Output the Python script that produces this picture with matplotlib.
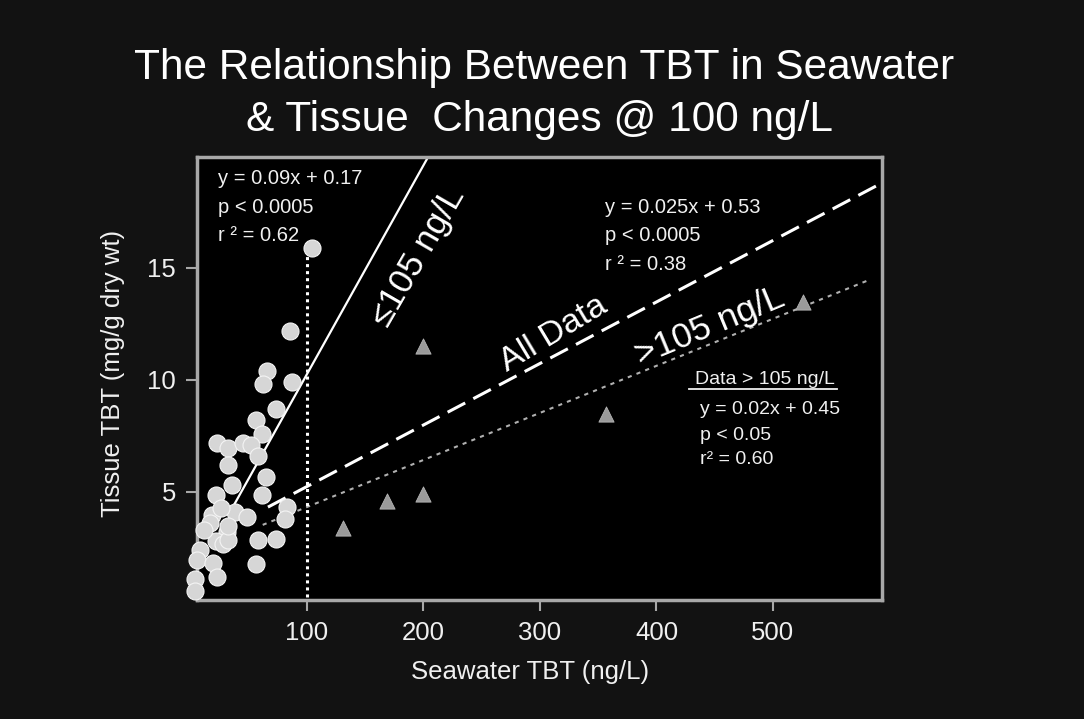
import matplotlib
matplotlib.use("Agg")
import matplotlib.pyplot as plt
from matplotlib.lines import Line2D
import numpy as np

plt.rcParams['font.family'] = ['Liberation Sans', 'DejaVu Sans']

# ---------------- data ----------------
# samples with seawater TBT <= 105 ng/L (circles)
low_x = [85.7, 66, 62, 87.4, 73, 56, 61.4, 22.5, 32, 45, 52, 58, 32.4, 64.8, 35.4,
         61, 21.6, 82.6, 81, 18.2, 38.2, 48.2, 16.7, 31, 21.9, 57.7, 73, 28, 8,
         5.3, 19.6, 56, 3.9, 22.5, 3.9, 104, 32.4, 32.4, 26, 12]
low_y = [12.2, 10.4, 9.8, 9.9, 8.7, 8.2, 7.6, 7.2, 6.95, 7.2, 7.1, 6.6, 6.2, 5.65, 5.3,
         4.87, 4.87, 4.34, 3.8, 3.97, 4.1, 3.9, 3.6, 3.2, 2.8, 2.86, 2.9, 2.7, 2.4,
         1.96, 1.85, 1.79, 1.12, 1.22, 0.6, 15.9, 2.86, 3.5, 4.3, 3.3]
# samples with seawater TBT > 105 ng/L (triangles)
high_x = [131, 169, 200, 200, 357, 526]
high_y = [3.4, 4.6, 4.9, 11.5, 8.5, 13.5]

# fitted lines as drawn on the slide: (slope, intercept, x_start, x_end)
fit_low = (0.0932, 0.94, 38, 215)
fit_all = (0.02745, 2.5, 66.5, 600)
fit_high = (0.021, 2.23, 62, 583)

threshold_x = 100
threshold_top = 15.9

x_ticks = [100, 200, 300, 400, 500]
y_ticks = [5, 10, 15]

title1 = "The Relationship Between TBT in Seawater"
title2 = "& Tissue  Changes @ 100 ng/L"
xlabel = "Seawater TBT (ng/L)"
ylabel = "Tissue TBT (mg/g dry wt)"

eq_low = ["y = 0.09x + 0.17", "p < 0.0005", "r \u00b2 = 0.62"]
eq_all = ["y = 0.025x + 0.53", "p < 0.0005", "r \u00b2 = 0.38"]
eq_high_head = "Data > 105 ng/L"
eq_high = ["y = 0.02x + 0.45", "p < 0.05", "r\u00b2 = 0.60"]

# ---------------- figure ----------------
W, H = 1084, 719
fig = plt.figure(figsize=(W / 100, H / 100), dpi=100)
fig.patch.set_facecolor('#121212')

L, R, T, B = 197, 882, 157, 600
ax = fig.add_axes([L / W, 1 - B / H, (R - L) / W, (B - T) / H])
ax.set_facecolor('black')
ax.set_xlim(5.6, 593.6)
ax.set_ylim(0.18, 19.95)

for s in ax.spines.values():
    s.set_color('#a8a8a8')
    s.set_linewidth(2.5)

ax.set_xticks(x_ticks)
ax.set_yticks(y_ticks)
ax.tick_params(axis='both', direction='out', length=8, width=1.5, color='#a8a8a8',
               labelcolor='#f0f0f0', labelsize=18.5, pad=7)

# lines
def draw_fit(f, **kw):
    m, c, x0, x1 = f
    xs = np.array([x0, x1])
    ax.plot(xs, m * xs + c, **kw)

draw_fit(fit_low, color='white', lw=1.6, zorder=2)
draw_fit(fit_all, color='white', lw=2.2, dashes=(6.5, 3), zorder=2)
draw_fit(fit_high, color='#b0b0b0', lw=1.5, dashes=(2, 2.5), zorder=2)
ax.plot([threshold_x, threshold_x], [0, threshold_top], color='white', lw=2.2,
        dashes=(1, 1.3), zorder=2)

ax.scatter(low_x, low_y, s=150, marker='o', facecolor='#d6d6d6', edgecolor='#f4f4f4',
           linewidth=0.8, zorder=3, clip_on=False)
ax.scatter(high_x, high_y, s=120, marker='^', facecolor='#9a9a9a', edgecolor='#b5b5b5',
           linewidth=0.6, zorder=3)

# rotated labels
ax.text(196, 15.5, "\u2264105 ng/L", rotation=60, color='white', fontsize=25,
        ha='center', va='center', rotation_mode='anchor')
ax.text(312, 12.05, "All Data", rotation=31, color='white', fontsize=24.5,
        ha='center', va='center', rotation_mode='anchor')
ax.text(446, 12.4, ">105 ng/L", rotation=22.5, color='white', fontsize=25.5,
        ha='center', va='center', rotation_mode='anchor')

# equations
def block(lines, x, ys, size=14.5):
    for t, y in zip(lines, ys):
        ax.text(x, y, t, color='#f0f0f0', fontsize=size, ha='left', va='center')

block(eq_low, 23.6, [19.0, 17.7, 16.45])
block(eq_all, 355.8, [17.7, 16.45, 15.15])
head = ax.text(433, 10.0, eq_high_head, color='#f0f0f0', fontsize=14,
               ha='left', va='center')
block(eq_high, 437.3, [8.66, 7.54, 6.43], size=14)

# titles and axis labels
fig.text(544 / W, 1 - 68 / H, title1, color='white', fontsize=30.5, ha='center', va='center')
fig.text(539 / W, 1 - 120 / H, title2, color='white', fontsize=30.5, ha='center', va='center')
fig.text(530 / W, 1 - 672 / H, xlabel, color='#f0f0f0', fontsize=18.5, ha='center', va='center')
fig.text(113 / W, 1 - 373 / H, ylabel, color='#f0f0f0', fontsize=18.5, ha='center',
         va='center', rotation=90)

# underline of header
fig.canvas.draw()
bb = head.get_window_extent()
fig.add_artist(Line2D([(bb.x0 - 6) / W, (bb.x1 + 2) / W], [(bb.y0 - 1) / H, (bb.y0 - 1) / H],
                      color='#f0f0f0', lw=1.3, transform=fig.transFigure))

fig.savefig('out.png', dpi=100, facecolor=fig.get_facecolor())
